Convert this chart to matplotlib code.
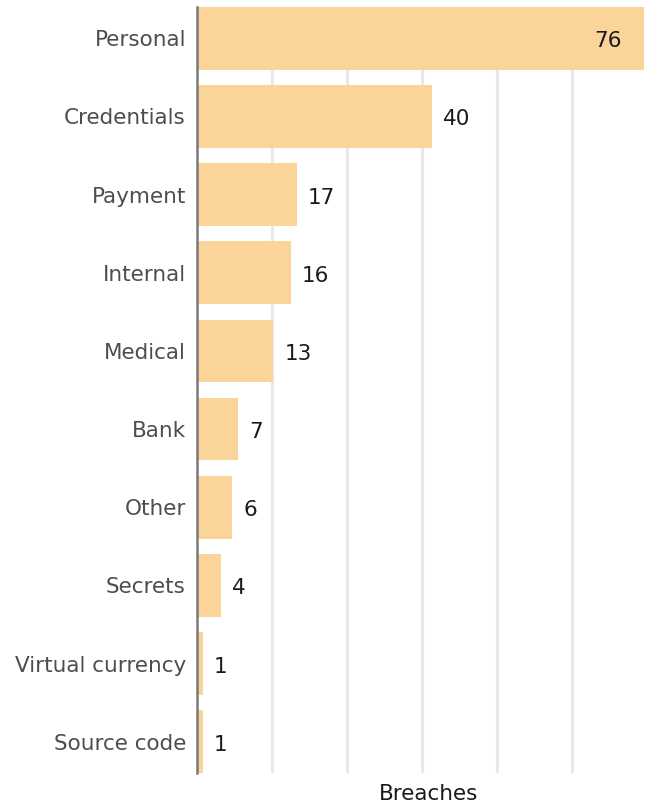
import numpy as np
import matplotlib.pyplot as plt

# breach counts by data type
categories = ["Personal", "Credentials", "Payment", "Internal", "Medical",
              "Bank", "Other", "Secrets", "Virtual currency", "Source code"]
breaches = [76, 40, 17, 16, 13, 7, 6, 4, 1, 1]

plt.rcParams['font.family'] = ['DejaVu Sans']

fig = plt.figure(figsize=(6.45, 8.06), dpi=100)
ax = fig.add_axes([197 / 645, 1 - 773 / 806, 448 / 645, 766 / 806])

y = np.arange(len(categories))
ax.barh(y, breaches, height=0.8, color="#fbd499", zorder=2)
ax.set_ylim(len(categories) - 0.6, -0.4)
ax.set_xlim(0, 76.25)

# light vertical gridlines, no tick labels
ax.set_xticks(np.arange(1, 6) * 12.75)
ax.set_xticklabels([])
ax.tick_params(axis='x', length=0)
ax.grid(axis='x', color="#e8e8e8", linewidth=2.2, zorder=0)

ax.set_yticks(y)
ax.set_yticklabels(categories, fontsize=15.5, color="#4d4d4d")
ax.tick_params(axis='y', length=0, pad=8)

for s in ["top", "right", "bottom"]:
    ax.spines[s].set_visible(False)
ax.spines["left"].set_color("#7a7a7a")
ax.spines["left"].set_linewidth(1.8)
ax.spines["left"].set_zorder(3)

# value labels, the longest one sits inside its bar
for yi, v in zip(y, breaches):
    if v == max(breaches):
        ax.annotate(str(v), (v, yi), xytext=(-22, -1), textcoords="offset pixels",
                    ha="right", va="center_baseline", fontsize=15.5, color="#1a1a1a")
    else:
        ax.annotate(str(v), (v, yi), xytext=(11, -1), textcoords="offset pixels",
                    ha="left", va="center_baseline", fontsize=15.5, color="#1a1a1a")

ax.set_xlabel("Breaches", fontsize=15.5, color="#1a1a1a")
ax.xaxis.set_label_coords(0.516, -0.014, transform=ax.transAxes)
ax.xaxis.label.set_va("top")

fig.savefig("out.png", dpi=100)
